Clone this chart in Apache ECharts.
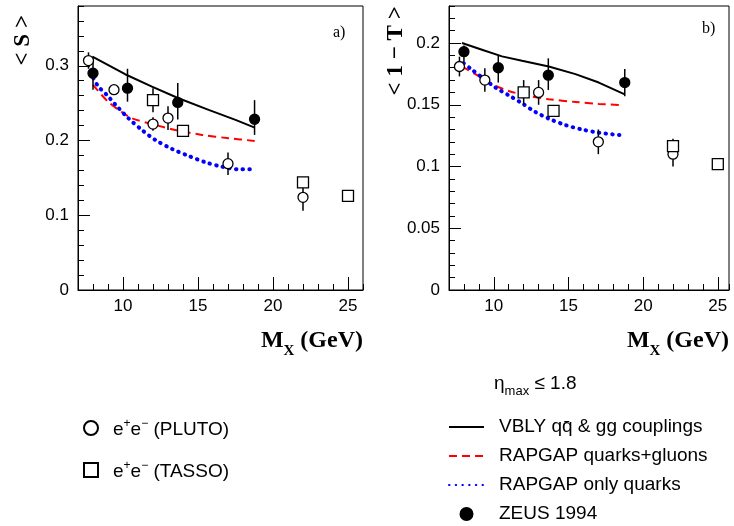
<!DOCTYPE html>
<html><head><meta charset="utf-8">
<script src="https://cdn.jsdelivr.net/npm/echarts@6/dist/echarts.min.js"></script>
<style>html,body{margin:0;padding:0;background:#fff}#c{width:734px;height:526px}</style>
</head><body><div id="c"></div>
<script>
// ---- data ----
const xMajorTicks = [10, 15, 20, 25];
const sMajorTicks = [0, 0.1, 0.2, 0.3];
const tMajorTicks = [0, 0.05, 0.1, 0.15, 0.2];

const plutoX = [7.7, 9.4, 12, 13, 17, 22];
const plutoS = [0.307, 0.268, 0.222, 0.230, 0.169, 0.124];
const plutoSErr = [0.011, 0.005, 0.009, 0.016, 0.015, 0.018];
const plutoT = [0.181, 0.170, 0.160, 0.160, 0.120, 0.110];
const plutoTErr = [0.008, 0.0095, 0.010, 0.010, 0.010, 0.010];

const tassoX = [12, 14, 22, 25];
const tassoS = [0.254, 0.213, 0.144, 0.126];
const tassoSErr = [0.016, 0.004, 0.006, 0.004];
const tassoT = [0.160, 0.145, 0.1165, 0.102];
const tassoTErr = [0.004, 0.003, 0.006, 0.003];

const zeusX = [8.0, 10.3, 13.65, 18.77];
const zeusS = [0.290, 0.270, 0.251, 0.2285];
const zeusSLo = [0.268, 0.252, 0.228, 0.2075];
const zeusSHi = [0.310, 0.296, 0.277, 0.254];
const zeusT = [0.193, 0.180, 0.174, 0.168];
const zeusTLo = [0.185, 0.168, 0.162, 0.157];
const zeusTHi = [0.198, 0.190, 0.1876, 0.179];

const vblySX = [7.96, 10.14, 11.93, 13.7, 15.71, 17.5, 18.78];
const vblyS  = [0.3123, 0.2887, 0.2722, 0.2566, 0.241, 0.2276, 0.2173];
const rqgSX = [8.0, 9.0, 10.0, 10.59, 12.15, 13.48, 15.27, 17.05, 18.78];
const rqgS  = [0.2744, 0.252, 0.237, 0.2298, 0.2209, 0.2142, 0.2075, 0.2031, 0.1995];
const rqSX = [8.02, 8.36, 8.92, 9.47, 10.36, 11.26, 12.15, 13.26, 14.37, 15.49, 16.6, 17.72, 18.6];
const rqS  = [0.2834, 0.2722, 0.261, 0.2486, 0.2298, 0.2142, 0.2008, 0.1888, 0.1794, 0.1709, 0.165, 0.1615, 0.1615];

const vblyTX = [7.87, 9.21, 10.55, 11.89, 13.68, 15.47, 17.03, 18.77];
const vblyT  = [0.2, 0.1946, 0.1892, 0.1856, 0.181, 0.1748, 0.168, 0.1585];
const rqgTX = [7.87, 8.77, 9.88, 11.0, 12.34, 13.68, 15.47, 17.03, 18.45];
const rqgT  = [0.181, 0.1748, 0.1667, 0.1612, 0.1572, 0.1545, 0.1523, 0.1507, 0.1498];
const rqTX = [7.98, 8.43, 9.32, 10.1, 11.0, 11.89, 12.78, 13.68, 14.79, 15.9, 17.03, 18.6];
const rqT  = [0.1837, 0.1794, 0.1713, 0.164, 0.1577, 0.1512, 0.1442, 0.1388, 0.1336, 0.130, 0.1274, 0.1252];

// ---- helpers ----
const SANS = '"Liberation Sans", Arial, Helvetica, sans-serif';
const SERIF = '"Liberation Serif", "Times New Roman", serif';
const zip = (a, b) => a.map((v, i) => [v, b[i]]);
const errSym = (x, y, e) => x.map((v, i) => [v, y[i] - e[i], y[i] + e[i]]);
const errAsym = (x, lo, hi) => x.map((v, i) => [v, lo[i], hi[i]]);

function majorX(grid, max) {
  return {
    type: 'value', gridIndex: grid, min: 7, max: max, position: 'bottom',
    axisLine: { show: true, lineStyle: { color: '#000', width: 1 } },
    axisTick: { show: true, inside: true, length: 13, customValues: xMajorTicks, lineStyle: { color: '#000', width: 1 } },
    axisLabel: { customValues: xMajorTicks, margin: 8, color: '#000', fontSize: 17, fontFamily: SANS },
    splitLine: { show: false },
    name: '{m|M}{x|X}{m| (GeV)}', nameLocation: 'end', nameGap: 0,
    nameTextStyle: {
      align: 'right', verticalAlign: 'top', padding: [39, 0, 0, 0],
      rich: {
        m: { fontFamily: SERIF, fontWeight: 'bold', fontSize: 24, color: '#000', verticalAlign: 'bottom', padding: [0, 0, 6, 0] },
        x: { fontFamily: SERIF, fontWeight: 'bold', fontSize: 15, color: '#000', verticalAlign: 'bottom' }
      }
    }
  };
}
function minorX(grid, max) {
  return {
    type: 'value', gridIndex: grid, min: 7, max: max, interval: 1, position: 'bottom',
    axisLine: { show: false },
    axisTick: { show: true, inside: true, length: 6, lineStyle: { color: '#000', width: 1 } },
    axisLabel: { show: false }, splitLine: { show: false }
  };
}
function majorY(grid, max, ticks, name, gap, pad) {
  return {
    type: 'value', gridIndex: grid, min: 0, max: max, position: 'left',
    axisLine: { show: true, lineStyle: { color: '#000', width: 1 } },
    axisTick: { show: true, inside: true, length: 12, customValues: ticks, lineStyle: { color: '#000', width: 1 } },
    axisLabel: { customValues: ticks, margin: 9, color: '#000', fontSize: 17, fontFamily: SANS },
    splitLine: { show: false },
    name: name, nameLocation: 'end', nameRotate: 90, nameGap: gap,
    nameTextStyle: {
      align: 'right', verticalAlign: 'bottom', padding: [0, 0, pad, 0],
      fontFamily: SERIF, fontWeight: 'bold', fontSize: 23, color: '#000'
    }
  };
}
function minorY(grid, max, step) {
  return {
    type: 'value', gridIndex: grid, min: 0, max: max, interval: step, position: 'left',
    axisLine: { show: false },
    axisTick: { show: true, inside: true, length: 6, lineStyle: { color: '#000', width: 1 } },
    axisLabel: { show: false }, splitLine: { show: false }
  };
}
function errSeries(ax, data) {
  return {
    type: 'custom', name: 'err', xAxisIndex: ax, yAxisIndex: ax, z: 3, silent: true,
    encode: { x: 0, y: [1, 2] },
    renderItem: function (params, api) {
      const p1 = api.coord([api.value(0), api.value(1)]);
      const p2 = api.coord([api.value(0), api.value(2)]);
      return { type: 'line', shape: { x1: p1[0], y1: p1[1], x2: p2[0], y2: p2[1] }, style: { stroke: '#000', lineWidth: 1.5 } };
    },
    data: data
  };
}
function lineSeries(name, ax, data, style) {
  return { type: 'line', name: name, xAxisIndex: ax, yAxisIndex: ax, symbol: 'none', showSymbol: false, z: 2,
    smooth: style.smooth || false, itemStyle: { color: style.ls.color },
    lineStyle: style.ls, data: data };
}
const solidLS = { color: '#000', width: 2, type: 'solid' };
const dashLS = { color: '#ff0000', width: 2, type: [8, 5] };
const dotLS = { color: '#0000ff', width: 4, type: [0.5, 6.2], cap: 'round' };
function scatter(name, ax, data, sym, fill, size) {
  return { type: 'scatter', name: name, xAxisIndex: ax, yAxisIndex: ax, z: 4, symbol: sym, symbolSize: size,
    itemStyle: { color: fill, borderColor: '#000', borderWidth: 1.3, opacity: 1 }, data: data };
}

const NAME_VBLY = 'VBLY';
const NAME_RQG = 'RAPGAP quarks+gluons';
const NAME_RQ = 'RAPGAP only quarks';
const NAME_ZEUS = 'ZEUS 1994';
const NAME_PLUTO = 'PLUTO';
const NAME_TASSO = 'TASSO';

const chart = echarts.init(document.getElementById('c'), null, { renderer: 'canvas' });
chart.setOption({
  animation: false,
  backgroundColor: '#fff',
  title: [
    { text: 'a)', left: 333, top: 25, padding: 0, textStyle: { fontFamily: SERIF, fontWeight: 'normal', fontSize: 16, color: '#000' } },
    { text: 'b)', left: 702, top: 21, padding: 0, textStyle: { fontFamily: SERIF, fontWeight: 'normal', fontSize: 16, color: '#000' } },
    { text: '{e|η}{s|max}{a| ≤ 1.8}', left: 494, top: 374, padding: 0,
      textStyle: { fontWeight: 'normal', rich: {
        e: { fontFamily: SANS, fontWeight: 'normal', fontSize: 19, color: '#000', verticalAlign: 'bottom', padding: [0, 0, 5, 0] },
        s: { fontFamily: SANS, fontWeight: 'normal', fontSize: 13, color: '#000', verticalAlign: 'bottom' },
        a: { fontFamily: SANS, fontWeight: 'normal', fontSize: 19, color: '#000', verticalAlign: 'bottom', padding: [0, 0, 5, 0] }
      } } }
  ],
  grid: [
    { left: 78, top: 6, width: 285, height: 284, show: true, borderColor: '#000', borderWidth: 1, backgroundColor: 'transparent', containLabel: false },
    { left: 449, top: 6, width: 280, height: 284, show: true, borderColor: '#000', borderWidth: 1, backgroundColor: 'transparent', containLabel: false }
  ],
  xAxis: [majorX(0, 26), minorX(0, 26), majorX(1, 25.75), minorX(1, 25.75)],
  yAxis: [majorY(0, 0.38, sMajorTicks, '< S >', -9, 43), minorY(0, 0.38, 0.02),
          majorY(1, 0.23, tMajorTicks, '< 1 − T >', -4, 41), minorY(1, 0.23, 0.01)],
  legend: [
    { orient: 'vertical', left: 83, top: 418, padding: 0, itemWidth: 14, itemHeight: 14, itemGap: 21, selectedMode: false,
      data: [NAME_PLUTO, NAME_TASSO],
      formatter: function (n) { return '{a|e}{sup|+}{a|e}{sup|−}{a| (' + n + ')}'; },
      textStyle: { padding: [0, 0, 0, 10], rich: {
        a: { fontFamily: SANS, fontSize: 19, color: '#000', lineHeight: 22, verticalAlign: 'bottom' },
        sup: { fontFamily: SANS, fontSize: 12, color: '#000', lineHeight: 12, verticalAlign: 'bottom', padding: [0, 0, 9, 0] }
      } } },
    { orient: 'vertical', left: 448, top: 417, padding: 0, itemWidth: 35, itemHeight: 12, itemGap: 9, selectedMode: false,
      data: [
        { name: NAME_VBLY, itemStyle: { opacity: 0 } },
        { name: NAME_RQG, itemStyle: { opacity: 0 } },
        { name: NAME_RQ, itemStyle: { opacity: 0 } },
        { name: NAME_ZEUS }
      ],
      formatter: function (n) { return n === NAME_VBLY ? 'VBLY qq\u0304 & gg couplings' : n; },
      textStyle: { padding: [0, 0, 0, 10], fontFamily: SANS, fontSize: 19, color: '#000', lineHeight: 20 } }
  ],
  series: [
    lineSeries(NAME_VBLY, 0, zip(vblySX, vblyS), { ls: solidLS }),
    lineSeries(NAME_RQG, 0, zip(rqgSX, rqgS), { ls: dashLS, smooth: 0.3 }),
    lineSeries(NAME_RQ, 0, zip(rqSX, rqS), { ls: dotLS, smooth: 0.3 }),
    errSeries(0, errSym(plutoX, plutoS, plutoSErr)),
    errSeries(0, errSym(tassoX, tassoS, tassoSErr)),
    errSeries(0, errAsym(zeusX, zeusSLo, zeusSHi)),
    scatter(NAME_PLUTO, 0, zip(plutoX, plutoS), 'circle', '#fff', 10),
    scatter(NAME_TASSO, 0, zip(tassoX, tassoS), 'rect', '#fff', 11),
    scatter(NAME_ZEUS, 0, zip(zeusX, zeusS), 'circle', '#000', 10),

    lineSeries(NAME_VBLY, 2, zip(vblyTX, vblyT), { ls: solidLS }),
    lineSeries(NAME_RQG, 2, zip(rqgTX, rqgT), { ls: dashLS, smooth: 0.3 }),
    lineSeries(NAME_RQ, 2, zip(rqTX, rqT), { ls: dotLS, smooth: 0.3 }),
    errSeries(2, errSym(plutoX, plutoT, plutoTErr)),
    errSeries(2, errSym(tassoX, tassoT, tassoTErr)),
    errSeries(2, errAsym(zeusX, zeusTLo, zeusTHi)),
    scatter(NAME_PLUTO, 2, zip(plutoX, plutoT), 'circle', '#fff', 10),
    scatter(NAME_TASSO, 2, zip(tassoX, tassoT), 'rect', '#fff', 11),
    scatter(NAME_ZEUS, 2, zip(zeusX, zeusT), 'circle', '#000', 10)
  ]
});
</script></body></html>
